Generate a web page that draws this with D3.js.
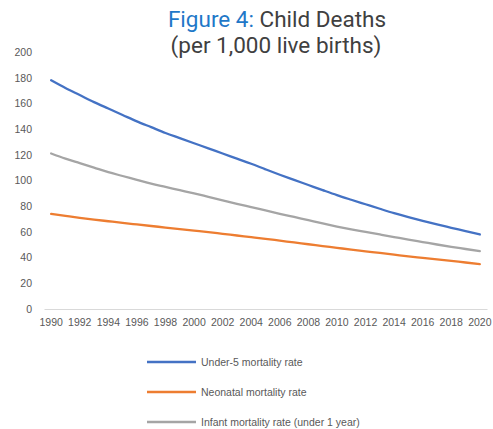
<!DOCTYPE html>
<html>
<head>
<meta charset="utf-8">
<script src="https://cdn.jsdelivr.net/npm/d3@7"></script>
<style>
  html, body { margin: 0; padding: 0; background: #fff; }
  svg { display: block; }
</style>
</head>
<body>
<svg id="chart" width="493" height="429"></svg>
<script>
// Years 1990–2020
const years = d3.range(1990, 2021);

// Deaths per 1,000 live births
const under5 = [178, 172, 166.5, 161, 156, 151, 146, 141.5, 137, 133, 129, 125, 121, 117, 113, 108.7, 104.5, 100.5, 96.5, 92.5, 88.6, 85, 81.5, 78, 74.6, 71.5, 68.6, 65.8, 63.2, 60.6, 58];
const neonatal = [74, 72.5, 71, 69.6, 68.3, 67, 65.8, 64.6, 63.4, 62.2, 61, 59.8, 58.5, 57.2, 55.9, 54.6, 53.2, 51.8, 50.4, 49, 47.6, 46.2, 44.9, 43.6, 42.3, 41, 39.8, 38.6, 37.4, 36.2, 35];
const infant = [121, 117, 113.5, 110, 106.5, 103.5, 100.5, 97.5, 95, 92.5, 90, 87.3, 84.6, 81.9, 79.3, 76.7, 74.1, 71.6, 69.1, 66.6, 64.2, 62, 60, 58, 56, 54, 52.1, 50.2, 48.4, 46.7, 45];

const seriesNames = ["Under-5 mortality rate", "Neonatal mortality rate", "Infant mortality rate (under 1 year)"];
const seriesColors = ["#4472C4", "#ED7D31", "#A5A5A5"];
const seriesValues = [under5, neonatal, infant];

const yTicks = d3.range(0, 201, 20);
const xTickYears = years.filter(y => (y - 1990) % 2 === 0);

const svg = d3.select("#chart");

// Title
const title = svg.append("text")
  .attr("x", 277)
  .attr("y", 27)
  .attr("text-anchor", "middle")
  .style("font-family", "Roboto, sans-serif")
  .style("font-size", "22.5px");
title.append("tspan").attr("fill", "#1f78c8").text("Figure 4: ");
title.append("tspan").attr("fill", "#404040").text("Child Deaths");
svg.append("text")
  .attr("x", 276)
  .attr("y", 53)
  .attr("text-anchor", "middle")
  .attr("fill", "#404040")
  .style("font-family", "Roboto, sans-serif")
  .style("font-size", "22.5px")
  .text("(per 1,000 live births)");

// Plot area
const plot = { left: 44, right: 487, top: 52, bottom: 309 };

const x = d3.scaleBand()
  .domain(years)
  .range([plot.left, plot.right]);

const y = d3.scaleLinear()
  .domain([0, 200])
  .range([plot.bottom, plot.top]);

const labelFont = "'Liberation Sans', Arial, sans-serif";

// Y axis labels
const yAxis = svg.append("g")
  .attr("transform", `translate(${plot.left},0)`)
  .call(d3.axisLeft(y).tickValues(yTicks).tickSize(0).tickPadding(12));
yAxis.select(".domain").remove();
yAxis.selectAll("text")
  .attr("fill", "#595959")
  .style("font-family", labelFont)
  .style("font-size", "10.5px");

// X axis baseline and labels
const xAxis = svg.append("g")
  .attr("transform", `translate(0,${plot.bottom})`)
  .call(d3.axisBottom(x).tickValues(xTickYears).tickSize(0).tickPadding(10));
xAxis.select(".domain")
  .attr("stroke", "#d9d9d9")
  .attr("stroke-width", 1.2);
xAxis.selectAll("text")
  .attr("fill", "#595959")
  .style("font-family", labelFont)
  .style("font-size", "10.5px");

// Series lines
const line = d3.line()
  .x((d, i) => x(years[i]) + x.bandwidth() / 2)
  .y(d => y(d))
  .curve(d3.curveMonotoneX);

seriesValues.forEach((vals, k) => {
  svg.append("path")
    .datum(vals)
    .attr("fill", "none")
    .attr("stroke", seriesColors[k])
    .attr("stroke-width", 2.3)
    .attr("stroke-linecap", "round")
    .attr("d", line);
});

// Legend
const legend = svg.append("g");
seriesNames.forEach((name, k) => {
  const ly = 362 + k * 30;
  legend.append("line")
    .attr("x1", 147).attr("x2", 196)
    .attr("y1", ly).attr("y2", ly)
    .attr("stroke", seriesColors[k])
    .attr("stroke-width", 2.3);
  legend.append("text")
    .attr("x", 201)
    .attr("y", ly + 4)
    .attr("fill", "#595959")
    .style("font-family", labelFont)
    .style("font-size", "10.5px")
    .text(name);
});
</script>
</body>
</html>
